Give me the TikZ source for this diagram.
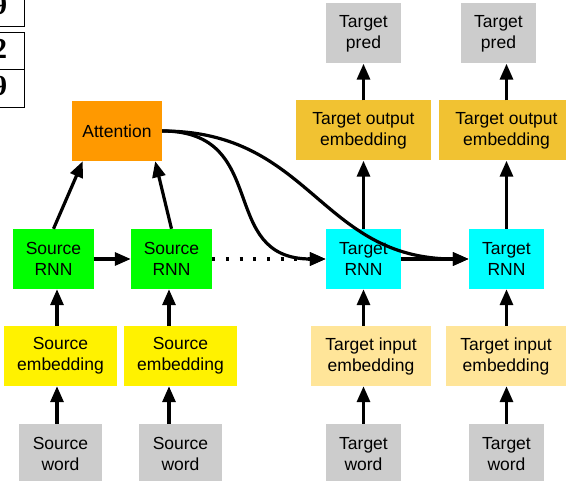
\documentclass[tikz,border=0pt]{standalone}
\usepackage{fontspec}
\setmainfont{Liberation Sans}
\newfontfamily\cellfont{Liberation Serif}
\usetikzlibrary{arrows.meta}
\definecolor{attorange}{HTML}{FF9900}
\definecolor{srcgreen}{HTML}{00FF00}
\definecolor{tgtcyan}{HTML}{00FFFF}
\definecolor{outgold}{HTML}{F1C232}
\definecolor{ingold}{HTML}{FFE599}
\definecolor{wordgray}{HTML}{CCCCCC}

\begin{document}
\begin{tikzpicture}[
        x=1pt,y=-1pt,
        every node/.style={inner sep=0pt,align=center,minimum height=60pt,font=\fontsize{17.5}{21}\selectfont},
        cell/.style={draw=black,line width=1pt,minimum width=48pt,text depth=6pt,font=\cellfont\bfseries\fontsize{29}{29}\selectfont},
        sword/.style={fill=wordgray,minimum width=83pt},
        tword/.style={fill=wordgray,minimum width=75pt},
        tpred/.style={fill=wordgray,minimum width=75pt},
        semb/.style={fill=yellow,minimum width=113pt},
        tin/.style={fill=ingold,minimum width=120pt},
        tout/.style={fill=outgold,minimum width=135pt},
        srnn/.style={fill=srcgreen,minimum width=81pt},
        trnn/.style={fill=tgtcyan,minimum width=75pt},
        attn/.style={fill=attorange,minimum width=90pt},
        link/.style={-{Triangle[length=16pt,width=13pt]},line width=3.2pt},
        dots/.style={link,dash pattern=on 3pt off 10.7pt},
        ]
      \useasboundingbox (0,0) rectangle (566,481);
      \clip (0,0) rectangle (566,481);

      % cut-off table on the left
      \node [cell, minimum height=38pt] (cell1) at (0,8) {9};
      \node [cell, minimum height=37pt] (cell2) at (0,51.5) {2};
      \node [cell, minimum height=38pt] (cell3) at (0,89) {9};

      \coordinate (col1) at (57,0);
      \coordinate (col2) at (169,0);
      \coordinate (col3) at (363.5,0);
      \coordinate (col4) at (506.5,0);

      \node [tpred] (pred1) at (363.5,33.5) {Target\\pred};
      \node [tpred] (pred2) at (498.5,33.5) {Target\\pred};
      \node [attn] (attention) at (117,131) {Attention};
      \node [tout] (tout1) at (363.5,130.5) {Target output\\embedding};
      \node [tout] (tout2) at (506.5,130.5) {Target output\\embedding};
      \node [srnn] (srnn1) at (53.5,259) {Source\\RNN};
      \node [srnn] (srnn2) at (171.5,259) {Source\\RNN};
      \node [trnn] (trnn1) at (363.5,259) {Target\\RNN};
      \node [trnn] (trnn2) at (506.5,259) {Target\\RNN};
      \node [semb] (semb1) at (60.5,356) {Source\\embedding};
      \node [semb] (semb2) at (180.5,356) {Source\\embedding};
      \node [tin] (tin1) at (371,356) {Target input\\embedding};
      \node [tin] (tin2) at (506,356) {Target input\\embedding};
      \node [sword] (sword1) at (60.5,454) {Source\\word};
      \node [sword] (sword2) at (180.5,454) {Source\\word};
      \node [tword] (tword1) at (363.5,454) {Target\\word};
      \node [tword] (tword2) at (506.5,454) {Target\\word};

      \draw[link] (sword1.north -| col1) -- (semb1.south -| col1);
      \draw[link] (sword2.north -| col2) -- (semb2.south -| col2);
      \draw[link] (tword1.north -| col3) -- (tin1.south -| col3);
      \draw[link] (tword2.north -| col4) -- (tin2.south -| col4);
      \draw[link] (semb1.north -| col1) -- (srnn1.south -| col1);
      \draw[link] (semb2.north -| col2) -- (srnn2.south -| col2);
      \draw[link] (tin1.north -| col3) -- (trnn1.south -| col3);
      \draw[link] (tin2.north -| col4) -- (trnn2.south -| col4);
      \draw[link] (srnn1.north) -- ([xshift=11pt]attention.south west);
      \draw[link] (srnn2.north) -- ([xshift=-7pt]attention.south east);
      \draw[link] (srnn1) -- (srnn2);
      \draw[dots] (srnn2) -- (trnn1);
      \draw[link] (trnn1) -- (trnn2);
      \draw[link] (trnn1.north -| col3) -- (tout1.south -| col3);
      \draw[link] (trnn2.north -| col4) -- (tout2.south -| col4);
      \draw[link] (tout1.north -| col3) -- (pred1.south -| col3);
      \draw[link] (tout2.north -| col4) -- (pred2.south -| col4);
      \draw[link] (attention.east) to[out=0,in=180,looseness=1.35] (trnn1.west);
      \draw[link] (attention.east) to[out=0,in=180,looseness=1.15] (trnn2.west);
    \end{tikzpicture}
\end{document}
